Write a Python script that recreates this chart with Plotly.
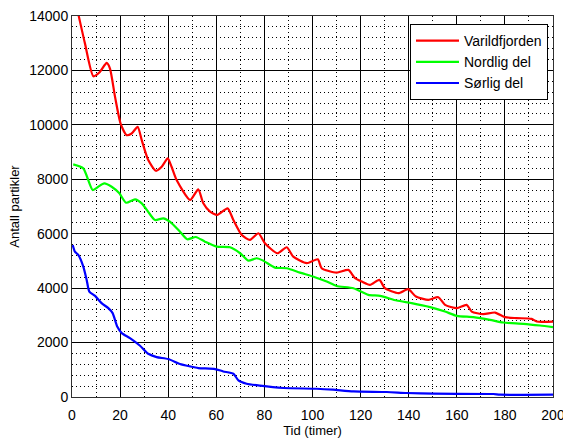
import plotly.graph_objects as go

# ---- data ----
red_x = [0, 2.9, 5.4, 8.9, 11.6, 14.4, 15.8, 17.9, 20.2, 22.7, 24.8, 27.3, 29, 31.7, 34.9, 37.3, 39.8, 41.4, 43.5,
         49.1, 52.5, 54.6, 57.4, 60.4, 64.7, 67.1, 70.6, 74, 77.5, 80.2, 85.4, 89.3, 92, 97.6, 102.2, 103.8, 110,
         114.9, 117.7, 120.5, 123.9, 127.8, 130.1, 135.7, 139.8, 143, 148.2, 152.3, 155.1, 160, 164.1, 166.2, 171,
         175.9, 180, 184.9, 191.1, 193.2, 200]
red_y = [15100, 13960, 12985, 11786, 11945, 12275, 12068, 11027, 10050, 9622, 9684, 9926, 9439, 8705, 8313, 8460, 8767, 8460, 7971,
         7238, 7630, 7117, 6808, 6687, 6933, 6504, 5954, 5771, 6016, 5649, 5282, 5502, 5158, 4916, 5062, 4732, 4570,
         4670, 4365, 4241, 4120, 4303, 3998, 3815, 3962, 3690, 3569, 3668, 3386, 3265, 3386, 3140, 3045,
         3103, 2935, 2898, 2872, 2773, 2773]

green_x = [0.5, 4.7, 8.6, 10.9, 13.4, 16.5, 19.7, 22.5, 26.2, 29, 32.1, 34.5, 38, 40.7, 44.9, 47.9, 51.5, 55.3,
           60.2, 65.7, 69.9, 73.3, 76.8, 79.5, 84.4, 89.3, 94.8, 101, 105.9, 110, 117, 123.2, 128.1, 135, 141.2,
           148.9, 155.1, 160, 166.9, 173.8, 179.3, 187.7, 194.6, 200]
green_y = [8547, 8400, 7605, 7726, 7850, 7726, 7483, 7139, 7264, 7117, 6750, 6504, 6566, 6442, 6075, 5796, 5880, 5708,
           5525, 5502, 5282, 5011, 5099, 5011, 4755, 4732, 4571, 4402, 4241, 4080, 3998, 3753, 3716, 3544, 3448,
           3302, 3140, 2982, 2935, 2836, 2737, 2689, 2627, 2568]

blue_x = [0.3, 1.2, 2.6, 4.7, 6.1, 7.2, 9.6, 12.3, 15.1, 16.9, 18.8, 20.7, 24.1, 28.3, 31.7, 35.2, 40, 44.9, 49.1,
          52.5, 59.5, 62.9, 67.1, 69.2, 72.6, 78.2, 87.9, 101.7, 108.6, 117, 130.9, 139.2, 150.2, 175.2, 178, 200]
blue_y = [5587, 5341, 5220, 4791, 4303, 3874, 3716, 3448, 3265, 3081, 2590, 2348, 2164, 1882, 1588, 1467, 1394, 1211, 1123,
          1064, 1027, 939, 855, 609, 488, 415, 330, 304, 268, 205, 183, 147, 121, 110, 84, 84]

names = ["Varildfjorden", "Nordlig del", "Sørlig del"]
colors = ["#ff0000", "#00ff00", "#0000ff"]

x_ticks = [0, 20, 40, 60, 80, 100, 120, 140, 160, 180, 200]
y_ticks = [0, 2000, 4000, 6000, 8000, 10000, 12000, 14000]

FONT = "Liberation Sans, Arial, Helvetica, sans-serif"

fig = go.Figure()
for xs, ys, nm, c in zip([red_x, green_x, blue_x], [red_y, green_y, blue_y], names, colors):
    fig.add_trace(go.Scatter(x=xs, y=ys, mode="lines", name=nm,
                             line=dict(color=c, width=2.2, shape="spline", smoothing=0.6)))

fig.update_layout(
    width=563, height=438,
    margin=dict(l=72, r=10, t=16, b=41, pad=0, autoexpand=False),
    paper_bgcolor="white", plot_bgcolor="white",
    font=dict(family=FONT, size=14, color="black"),
    showlegend=True,
    legend=dict(x=0.9896, y=0.979, xanchor="right", yanchor="top",
                bgcolor="white", bordercolor="black", borderwidth=1,
                font=dict(family=FONT, size=14, color="black"),
                itemwidth=43, tracegroupgap=0),
)

fig.update_xaxes(
    range=[0, 200], tickvals=x_ticks, ticktext=[str(v) for v in x_ticks],
    showgrid=True, gridcolor="black", gridwidth=1,
    minor=dict(dtick=10, tick0=0, showgrid=True, gridcolor="black", griddash="1px,3px", gridwidth=1),
    showline=True, linecolor="#303030", linewidth=1, mirror=True,
    ticks="", zeroline=False, ticklabeloverflow="allow", ticklabelstandoff=5,
    automargin=False,
    title=dict(text="Tid (timer)", font=dict(size=13), standoff=6),
    tickfont=dict(size=14),
)
fig.update_yaxes(
    range=[0, 14000], tickvals=y_ticks, ticktext=[str(v) for v in y_ticks],
    showgrid=True, gridcolor="black", gridwidth=1,
    minor=dict(dtick=400, tick0=0, showgrid=True, gridcolor="black", griddash="1px,3px", gridwidth=1),
    showline=True, linecolor="#303030", linewidth=1, mirror=True,
    ticks="", zeroline=False, ticklabeloverflow="allow",
    automargin=False,
    title=dict(text="Antall partikler", font=dict(size=13), standoff=6),
    tickfont=dict(size=14),
)

fig.write_html("out.html")
